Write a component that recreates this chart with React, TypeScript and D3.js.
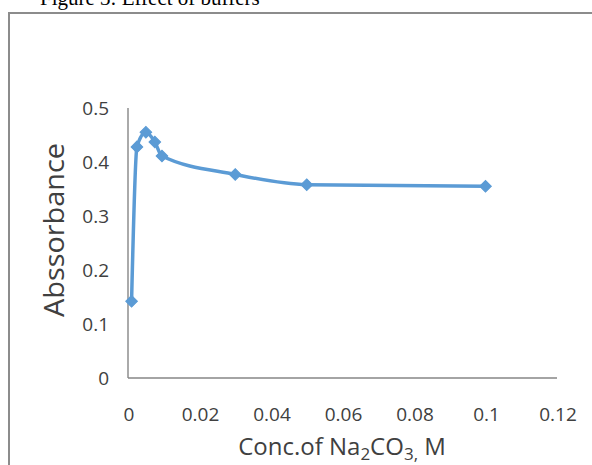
import React from "react";
import * as d3 from "d3";

const concentrations = [0.001, 0.0025, 0.005, 0.0075, 0.0095, 0.03, 0.05, 0.1];
const absorbance = [0.142, 0.428, 0.455, 0.437, 0.411, 0.377, 0.358, 0.355];
const xTicks = [0, 0.02, 0.04, 0.06, 0.08, 0.1, 0.12];
const yTicks = [0, 0.1, 0.2, 0.3, 0.4, 0.5];

const W = 592;
const H = 465;
const BLUE = "#5b9bd5";
const FONT = "'Open Sans', 'Noto Sans', sans-serif";
const TEXT = "#404040";

export default function App() {
  const x = d3.scaleLinear().domain([0, 0.12]).range([128, 557]);
  const y = d3.scaleLinear().domain([0, 0.5]).range([378, 108]);
  const pts: [number, number][] = concentrations.map((c, i) => [x(c), y(absorbance[i])]);
  const line = d3.line().curve(d3.curveMonotoneX)(pts) || "";
  const diamond = d3.symbol().type(d3.symbolSquare).size(68)() || "";

  return (
    <svg
      width={W}
      height={H}
      style={{ position: "absolute", left: 0, top: 0, background: "#fff" }}
    >
      <rect x={0} y={0} width={W} height={H} fill="#fff" />
      <text
        x={40}
        y={5}
        fontFamily="'Liberation Serif', 'Times New Roman', serif"
        fontSize={21}
        fill="#000"
      >
        Figure 3: Effect of buffers
      </text>
      <rect x={9} y={13} width={W + 20} height={H + 20} fill="none" stroke="#8c8c8c" strokeWidth={2} />

      {/* axes */}
      <line x1={x(0)} x2={x(0)} y1={y(0.5)} y2={y(0)} stroke="#868686" strokeWidth={1.4} />
      <line x1={x(0)} x2={x(0.12)} y1={y(0)} y2={y(0)} stroke="#868686" strokeWidth={1.4} />

      {yTicks.map((t) => (
        <text
          key={"y" + t}
          x={109}
          y={y(t)}
          dy="0.36em"
          textAnchor="end"
          fontFamily={FONT}
          fontSize={19}
          fill={TEXT}
        >
          {String(t)}
        </text>
      ))}
      {xTicks.map((t) => (
        <text
          key={"x" + t}
          x={x(t) + 1}
          y={421}
          textAnchor="middle"
          fontFamily={FONT}
          fontSize={19}
          fill={TEXT}
        >
          {String(t)}
        </text>
      ))}

      <text
        transform={`translate(64,230) rotate(-90)`}
        textAnchor="middle"
        fontFamily={FONT}
        fontSize={27}
        textLength={174}
        lengthAdjust="spacingAndGlyphs"
        fill={TEXT}
      >
        Abssorbance
      </text>
      <text x={342} y={455} textAnchor="middle" fontFamily={FONT} fontSize={24} fill={TEXT}>
        Conc.of Na
        <tspan fontSize={17} dy={5}>2</tspan>
        <tspan dy={-5}>CO</tspan>
        <tspan fontSize={17} dy={5}>3,</tspan>
        <tspan dy={-5}> M</tspan>
      </text>

      <path d={line} fill="none" stroke={BLUE} strokeWidth={3.5} strokeLinejoin="round" />
      {pts.map((p, i) => (
        <path
          key={i}
          d={diamond}
          transform={`translate(${p[0]},${p[1]}) rotate(45)`}
          fill={BLUE}
          stroke={BLUE}
          strokeWidth={1}
        />
      ))}
    </svg>
  );
}
